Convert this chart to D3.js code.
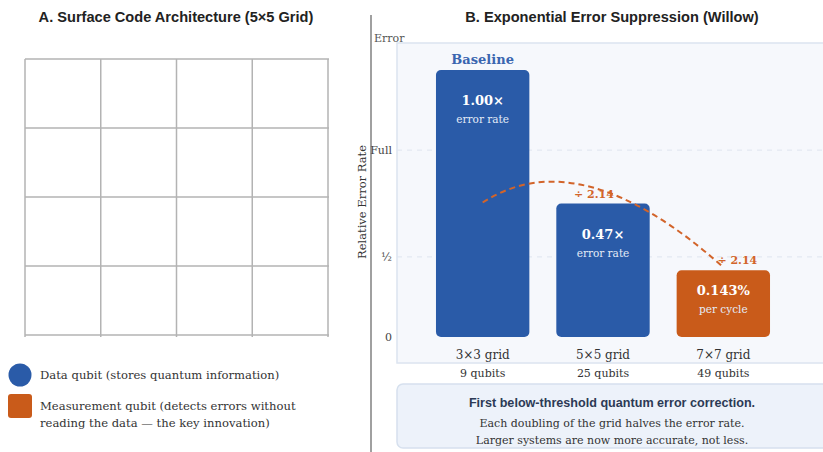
<!DOCTYPE html>
<html>
<head>
<meta charset="utf-8">
<title>Surface Code / Willow</title>
<script src="https://d3js.org/d3.v7.min.js"></script>
<style>
  body { margin: 0; background: #fff; }
  .sans { font-family: "Liberation Sans", Arial, Helvetica, sans-serif; }
  .serif { font-family: "DejaVu Serif", Georgia, serif; }
</style>
</head>
<body>
<div id="chart"></div>
<script>
// ---- data ----
var gridLines = [0, 1, 2, 3, 4];          // 5x5 grid of lines

var legendItems = [
  { shape: "circle", color: "#2a5ba8", lines: ["Data qubit (stores quantum information)"] },
  { shape: "square", color: "#c95b1a", lines: ["Measurement qubit (detects errors without", "reading the data \u2014 the key innovation)"] }
];

var categories = ["3\u00d73 grid", "5\u00d75 grid", "7\u00d77 grid"];
var qubitLabels = ["9 qubits", "25 qubits", "49 qubits"];
var relError = [1.0, 0.5, 0.25];
var barColors = ["#2a5ba8", "#2a5ba8", "#c95b1a"];
var barMain = ["1.00\u00d7", "0.47\u00d7", "0.143%"];
var barSub = ["error rate", "error rate", "per cycle"];
var ratioLabels = [null, "\u00f7 2.14", "\u00f7 2.14"];

var yTicks = [0, 0.3, 0.7];
var yTickLabels = ["0", "\u00bd", "Full"];
var gridTicks = [0.3, 0.7];

var footerLines = [
  "First below-threshold quantum error correction.",
  "Each doubling of the grid halves the error rate.",
  "Larger systems are now more accurate, not less."
];

// ---- svg ----
var W = 823, H = 452;
var svg = d3.select("#chart").append("svg")
    .attr("width", W).attr("height", H);

// ===== Panel A =====
svg.append("text").attr("class", "sans")
    .attr("x", 176).attr("y", 22)
    .attr("text-anchor", "middle")
    .style("font-size", "14.6px").style("font-weight", "bold").style("fill", "#222")
    .text("A. Surface Code Architecture (5\u00d75 Grid)");

var gx = d3.scaleLinear().domain([0, 4]).range([25, 328]);
var gy = d3.scaleLinear().domain([0, 4]).range([59, 335]);

var grid = svg.append("g");
grid.selectAll("line.v").data(gridLines).enter().append("line")
    .attr("x1", function(d) { return gx(d); }).attr("x2", function(d) { return gx(d); })
    .attr("y1", gy(0)).attr("y2", gy(4) + 2)
    .style("stroke", "#b3b3b3").style("stroke-width", 1.5);
grid.selectAll("line.h").data(gridLines).enter().append("line")
    .attr("y1", function(d) { return gy(d); }).attr("y2", function(d) { return gy(d); })
    .attr("x1", gx(0)).attr("x2", gx(4) + 1)
    .style("stroke", "#b3b3b3").style("stroke-width", 1.5);

// legend
var leg = svg.append("g");
var legY = [375, 406];
legendItems.forEach(function(item, i) {
  var cy = legY[i];
  if (item.shape === "circle") {
    leg.append("circle").attr("cx", 20).attr("cy", cy).attr("r", 11.5)
        .style("fill", item.color);
  } else {
    leg.append("rect").attr("x", 8).attr("y", cy - 12).attr("width", 24).attr("height", 24)
        .attr("rx", 3).style("fill", item.color);
  }
  item.lines.forEach(function(t, j) {
    leg.append("text").attr("class", "serif")
        .attr("x", 40).attr("y", cy + 4 + j * 17)
        .style("font-size", "11.6px").style("fill", "#333")
        .text(t);
  });
});

// divider
svg.append("line").attr("x1", 371).attr("x2", 371).attr("y1", 15).attr("y2", H)
    .style("stroke", "#a0a0a0").style("stroke-width", 2);

// ===== Panel B =====
svg.append("text").attr("class", "sans")
    .attr("x", 612).attr("y", 22)
    .attr("text-anchor", "middle")
    .style("font-size", "14.6px").style("font-weight", "bold").style("fill", "#222")
    .text("B. Exponential Error Suppression (Willow)");

var x = d3.scaleBand().domain(categories).range([422.5, 783.5])
    .paddingInner(0.224).paddingOuter(0.112);
var y = d3.scaleLinear().domain([0, 1]).range([337, 70]);

// plot background
svg.append("rect").attr("x", 397).attr("y", 43).attr("width", 440).attr("height", 320)
    .style("fill", "#f6f8fc").style("stroke", "#dce4f0").style("stroke-width", 1.5);

// gridlines
svg.selectAll("line.grid").data(gridTicks).enter().append("line")
    .attr("x1", 397).attr("x2", W)
    .attr("y1", function(d) { return y(d); }).attr("y2", function(d) { return y(d); })
    .style("stroke", "#dfe5ef").style("stroke-dasharray", "5,5");

// y tick labels
svg.selectAll("text.ytick").data(yTicks).enter().append("text")
    .attr("class", "serif")
    .attr("x", 392).attr("y", function(d) { return y(d) + 4; })
    .attr("text-anchor", "end")
    .style("font-size", "11px").style("fill", "#444")
    .text(function(d, i) { return yTickLabels[i]; });
svg.append("text").attr("class", "serif")
    .attr("x", 374).attr("y", 42)
    .style("font-size", "11px").style("fill", "#555")
    .text("Error");

// y axis title
svg.append("text").attr("class", "serif")
    .attr("transform", "translate(366,202) rotate(-90)")
    .attr("text-anchor", "middle")
    .style("font-size", "11.5px").style("fill", "#333")
    .text("Relative Error Rate");

// bars
var bars = svg.selectAll("g.bar").data(relError).enter().append("g");
bars.append("rect")
    .attr("x", function(d, i) { return x(categories[i]); })
    .attr("y", function(d) { return y(d); })
    .attr("width", x.bandwidth())
    .attr("height", function(d) { return y(0) - y(d); })
    .attr("rx", 5)
    .style("fill", function(d, i) { return barColors[i]; });

function labelOffset(d) { return Math.min(30, (y(0) - y(d)) / 2 - 14); }

bars.append("text").attr("class", "serif")
    .attr("x", function(d, i) { return x(categories[i]) + x.bandwidth() / 2; })
    .attr("y", function(d) { return y(d) + labelOffset(d) + 5; })
    .attr("text-anchor", "middle")
    .style("font-size", "13px").style("font-weight", "bold").style("fill", "#fff")
    .text(function(d, i) { return barMain[i]; });
bars.append("text").attr("class", "serif")
    .attr("x", function(d, i) { return x(categories[i]) + x.bandwidth() / 2; })
    .attr("y", function(d) { return y(d) + labelOffset(d) + 23; })
    .attr("text-anchor", "middle")
    .style("font-size", "10.5px").style("fill", "#e4ebf7")
    .text(function(d, i) { return barSub[i]; });

// baseline label
svg.append("text").attr("class", "serif")
    .attr("x", x(categories[0]) + x.bandwidth() / 2).attr("y", y(relError[0]) - 6)
    .attr("text-anchor", "middle")
    .style("font-size", "13px").style("font-weight", "bold").style("fill", "#3a66b0")
    .text("Baseline");

// category labels
svg.selectAll("text.cat").data(categories).enter().append("text")
    .attr("class", "serif")
    .attr("x", function(d) { return x(d) + x.bandwidth() / 2; })
    .attr("y", 359)
    .attr("text-anchor", "middle")
    .style("font-size", "12px").style("fill", "#333")
    .text(function(d) { return d; });
svg.selectAll("text.qb").data(qubitLabels).enter().append("text")
    .attr("class", "serif")
    .attr("x", function(d, i) { return x(categories[i]) + x.bandwidth() / 2; })
    .attr("y", 377)
    .attr("text-anchor", "middle")
    .style("font-size", "11px").style("fill", "#333")
    .text(function(d) { return d; });

// dashed suppression curve
var cx0 = x(categories[0]) + x.bandwidth() / 2;
var cx1 = x(categories[1]) + x.bandwidth() / 2;
var cx2 = x(categories[2]) + x.bandwidth() / 2;
var curve = d3.path();
curve.moveTo(cx0, y(relError[1]) - 1);
curve.quadraticCurveTo(cx1 - 23, y(0.74), cx2, y(relError[2]) - 3);
svg.append("path").attr("d", curve.toString())
    .style("fill", "none").style("stroke", "#d2642a")
    .style("stroke-width", 2).style("stroke-dasharray", "6,4");

// ratio labels
var ratioDx = [0, -9, 14];
ratioLabels.forEach(function(t, i) {
  if (t === null) return;
  svg.append("text").attr("class", "serif")
      .attr("x", x(categories[i]) + x.bandwidth() / 2 + ratioDx[i])
      .attr("y", y(relError[i]) - 6)
      .attr("text-anchor", "middle")
      .style("font-size", "11px").style("font-weight", "bold").style("fill", "#d2642a")
      .text(t);
});

// footer note
svg.append("rect").attr("x", 397).attr("y", 384).attr("width", 440).attr("height", 64)
    .attr("rx", 6)
    .style("fill", "#edf2fa").style("stroke", "#d6e0ee").style("stroke-width", 1.5);
svg.append("text").attr("class", "sans")
    .attr("x", 612).attr("y", 407)
    .attr("text-anchor", "middle")
    .style("font-size", "12.6px").style("font-weight", "bold").style("fill", "#2c3a55")
    .text(footerLines[0]);
footerLines.slice(1).forEach(function(t, i) {
  svg.append("text").attr("class", "serif")
      .attr("x", 612).attr("y", 427 + i * 17)
      .attr("text-anchor", "middle")
      .style("font-size", "11px").style("fill", "#333")
      .text(t);
});
</script>
</body>
</html>
